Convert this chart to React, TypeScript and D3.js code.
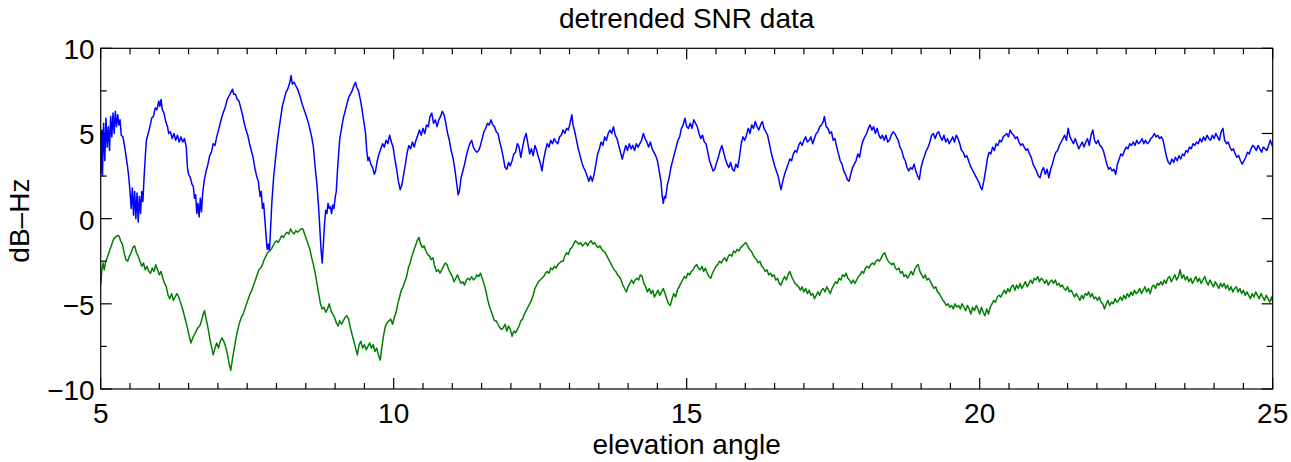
import React, { useEffect, useRef } from "react";
import * as d3 from "d3";

// ---- data (elevation angle [deg], detrended SNR [dB-Hz]) ----
const blue5to8: [number, number][] = [
  [5.00,2.6],[5.02,5.2],[5.03,2.5],[5.05,5.6],[5.07,3.4],[5.09,5.9],[5.11,4.2],[5.13,5.4],[5.15,4.0],[5.17,6.0],
  [5.19,4.8],[5.21,6.2],[5.23,5.0],[5.25,6.3],[5.27,5.4],[5.29,6.1],[5.31,5.5],[5.33,5.8],[5.35,4.9],[5.38,4.8],
  [5.41,4.2],[5.44,3.5],[5.46,3.0],[5.48,2.4],[5.50,1.6],[5.52,0.6],[5.54,1.8],[5.56,0.2],[5.58,1.6],[5.60,0.0],
  [5.62,1.5],[5.64,-0.2],[5.66,1.3],[5.68,0.3],[5.70,1.6],[5.72,1.0],[5.74,2.4],[5.76,3.6],[5.78,4.6],[5.81,5.0],
  [5.84,5.4],[5.87,5.9],[5.90,6.0],[5.93,6.5],[5.96,6.4],[5.99,6.9],[6.01,6.6],[6.03,7.0],[6.05,6.4],[6.08,6.2],
  [6.11,5.7],[6.14,5.4],[6.16,5.0],[6.19,5.1],[6.22,4.7],[6.25,5.0],[6.28,4.6],[6.31,4.9],[6.34,4.5],[6.37,4.8],
  [6.40,4.5],[6.43,4.7],[6.46,4.2],[6.48,3.0],[6.50,2.6],[6.53,2.4],[6.56,2.0],[6.58,1.9],[6.60,1.2],[6.62,1.4],
  [6.64,0.3],[6.66,0.9],[6.68,0.1],[6.70,1.2],[6.72,0.4],[6.74,1.5],[6.77,2.3],[6.80,2.8],[6.83,3.2],[6.86,3.7],
  [6.89,3.9],[6.92,4.4],[6.95,4.3],[6.98,4.8],[7.01,5.2],[7.04,5.6],[7.07,6.0],[7.10,6.3],[7.13,6.6],[7.16,7.0],
  [7.19,7.2],[7.22,7.4],[7.25,7.6],[7.27,7.3],[7.30,7.3],[7.33,7.0],[7.36,6.9],[7.39,6.5],[7.42,6.1],[7.45,5.6],
  [7.48,5.2],[7.51,4.9],[7.54,4.4],[7.57,4.0],[7.60,3.6],[7.63,3.0],[7.66,2.5],[7.69,2.2],[7.72,1.3],[7.74,1.6],
  [7.76,0.6],[7.78,0.9],[7.80,0.0],[7.82,-0.9],[7.84,-1.8],[7.86,-1.5],[7.88,-1.9],[7.90,-0.5],[7.92,0.9],[7.95,2.4],
  [7.98,3.4],
];
const blue8to11: [number, number][] = [
  [8.01,4.4],[8.04,5.2],[8.07,5.9],[8.10,6.6],[8.13,7.0],[8.16,7.4],[8.19,7.6],[8.22,7.9],[8.25,8.4],[8.27,7.9],
  [8.30,8.0],[8.33,7.8],[8.36,7.6],[8.40,7.2],[8.44,6.7],[8.48,6.3],[8.52,5.9],[8.56,5.4],[8.60,4.8],[8.63,4.2],
  [8.66,3.0],[8.69,2.0],[8.72,0.6],[8.74,-0.6],[8.76,-1.8],[8.78,-2.6],[8.80,-1.5],[8.82,-0.3],[8.84,0.5],[8.86,0.3],
  [8.88,0.9],[8.90,0.6],[8.92,0.7],[8.94,0.3],[8.96,0.8],[8.98,0.6],[9.00,1.2],[9.02,1.6],[9.04,2.8],[9.06,3.8],
  [9.08,4.7],[9.11,5.3],[9.14,5.9],[9.17,6.3],[9.20,6.7],[9.23,7.1],[9.26,7.3],[9.29,7.5],[9.32,7.8],[9.35,8.0],
  [9.37,7.7],[9.40,7.5],[9.43,7.0],[9.46,6.4],[9.49,5.7],[9.52,5.0],[9.54,4.0],[9.56,3.4],[9.58,3.6],[9.61,3.2],
  [9.64,3.0],[9.67,2.6],[9.69,2.8],[9.72,3.4],[9.75,3.8],[9.78,4.1],[9.81,4.4],[9.84,4.2],[9.87,4.6],[9.90,4.4],
  [9.93,4.9],[9.96,4.5],[9.99,4.2],[10.02,3.5],[10.05,2.9],[10.08,2.2],[10.11,1.7],[10.14,2.0],[10.17,2.6],[10.20,3.2],
  [10.23,3.9],[10.26,4.3],[10.29,4.1],[10.32,4.5],[10.35,4.2],[10.38,4.6],[10.41,4.9],[10.44,5.2],[10.47,4.9],[10.50,5.3],
  [10.53,5.0],[10.56,5.5],[10.59,5.4],[10.62,6.0],[10.65,6.2],[10.68,5.6],[10.71,5.8],[10.74,5.4],[10.77,5.8],[10.80,6.0],
  [10.83,6.3],[10.86,6.1],[10.89,5.6],[10.92,5.0],[10.95,4.6],[10.98,4.0],
];
const blue11to14: [number, number][] = [
  [11.01,3.6],[11.04,3.0],[11.07,2.2],[11.10,1.4],[11.12,1.6],[11.15,2.4],[11.18,2.8],[11.21,3.2],[11.24,3.7],[11.27,4.1],
  [11.30,4.4],[11.33,4.6],[11.36,4.2],[11.39,4.0],[11.42,3.9],[11.45,4.0],[11.48,4.3],[11.51,4.7],[11.54,5.1],[11.57,5.3],
  [11.60,5.6],[11.63,5.5],[11.66,5.8],[11.69,5.5],[11.72,5.4],[11.75,5.1],[11.78,5.0],[11.81,4.5],[11.84,4.1],[11.87,3.6],
  [11.90,3.0],[11.93,2.9],[11.96,3.3],[11.99,3.1],[12.02,3.4],[12.05,3.8],[12.08,3.9],[12.11,4.4],[12.14,4.2],[12.17,3.6],
  [12.20,4.2],[12.23,4.7],[12.26,5.0],[12.29,4.4],[12.32,3.8],[12.35,4.1],[12.38,3.7],[12.41,4.3],[12.44,4.0],[12.47,3.6],
  [12.50,3.3],[12.53,2.8],[12.56,3.5],[12.59,4.0],[12.62,4.4],[12.65,4.2],[12.68,4.6],[12.71,4.4],[12.74,4.7],[12.77,4.5],
  [12.80,4.4],[12.83,4.8],[12.86,4.9],[12.89,5.2],[12.92,5.0],[12.95,5.3],[12.98,5.2],[13.01,5.6],[13.04,6.1],[13.06,5.5],
  [13.09,5.1],[13.12,4.6],[13.15,4.1],[13.18,3.7],[13.21,3.3],[13.24,3.0],[13.27,2.8],[13.30,2.5],[13.33,2.2],[13.36,2.5],
  [13.39,2.2],[13.42,2.6],[13.45,3.2],[13.48,3.8],[13.51,4.1],[13.54,4.5],[13.57,4.3],[13.60,4.8],[13.63,4.6],[13.66,5.0],
  [13.69,5.2],[13.72,5.0],[13.75,5.4],[13.78,4.9],[13.81,4.7],[13.84,4.3],[13.87,3.9],[13.90,3.5],[13.93,3.9],[13.96,4.3],
  [13.99,4.0],
];
const blue14to17: [number, number][] = [
  [14.02,4.4],[14.05,4.1],[14.08,4.3],[14.11,4.0],[14.14,4.4],[14.17,4.2],[14.20,4.4],[14.23,4.6],[14.26,5.0],[14.29,4.7],
  [14.32,4.5],[14.35,4.2],[14.38,4.5],[14.41,4.1],[14.44,3.9],[14.47,3.7],[14.50,3.4],[14.53,2.8],[14.56,2.2],[14.58,1.4],
  [14.60,0.9],[14.62,1.3],[14.64,1.2],[14.67,2.0],[14.70,2.4],[14.73,3.0],[14.76,3.4],[14.79,3.8],[14.82,4.2],[14.85,4.6],
  [14.88,4.8],[14.91,5.3],[14.94,5.5],[14.97,5.9],[15.00,5.4],[15.03,5.3],[15.06,5.6],[15.09,5.3],[15.12,5.8],[15.15,5.6],
  [15.18,5.4],[15.21,5.0],[15.24,4.7],[15.27,4.9],[15.30,4.5],[15.33,4.4],[15.36,3.9],[15.39,3.4],[15.42,3.1],[15.45,2.8],
  [15.48,2.9],[15.51,3.3],[15.54,3.6],[15.57,4.0],[15.60,4.3],[15.63,3.9],[15.66,3.5],[15.69,3.2],[15.72,3.0],[15.75,3.3],
  [15.78,2.9],[15.81,2.8],[15.84,3.2],[15.87,3.0],[15.90,3.6],[15.93,4.4],[15.96,4.8],[15.99,4.6],[16.02,4.9],[16.05,5.3],
  [16.08,5.0],[16.11,5.5],[16.14,5.3],[16.17,5.7],[16.20,5.4],[16.23,5.2],[16.26,5.5],[16.29,5.7],[16.32,5.3],[16.35,5.1],
  [16.38,4.9],[16.41,4.4],[16.44,3.9],[16.47,3.5],[16.50,3.1],[16.53,2.8],[16.56,2.5],[16.59,2.0],[16.61,1.7],[16.64,2.2],
  [16.67,2.6],[16.70,2.9],[16.73,3.2],[16.76,3.5],[16.79,3.4],[16.82,3.8],[16.85,4.0],[16.88,3.9],[16.91,4.3],[16.94,4.5],
  [16.97,4.3],
];
const blue17to20: [number, number][] = [
  [17.00,4.6],[17.03,4.8],[17.06,4.5],[17.09,4.6],[17.12,4.8],[17.15,4.4],[17.18,4.7],[17.21,5.0],[17.24,5.1],[17.27,5.4],
  [17.30,5.5],[17.33,5.7],[17.35,6.0],[17.38,5.4],[17.41,5.3],[17.44,5.0],[17.47,5.1],[17.50,4.6],[17.53,4.7],[17.56,4.2],
  [17.59,3.8],[17.62,3.4],[17.65,3.2],[17.68,2.8],[17.71,2.6],[17.74,2.3],[17.77,2.2],[17.80,2.6],[17.83,3.0],[17.86,3.2],
  [17.89,3.4],[17.92,3.8],[17.95,3.6],[17.98,4.2],[18.01,4.6],[18.04,4.8],[18.07,5.0],[18.10,5.3],[18.13,5.5],[18.16,5.2],
  [18.19,5.4],[18.22,5.0],[18.25,5.3],[18.28,4.9],[18.31,4.7],[18.34,4.9],[18.37,4.6],[18.40,4.9],[18.43,4.5],[18.46,4.6],
  [18.49,4.9],[18.52,5.1],[18.55,5.0],[18.58,4.8],[18.61,4.6],[18.64,4.2],[18.67,4.0],[18.70,3.6],[18.73,3.4],[18.76,3.0],
  [18.79,2.8],[18.82,3.0],[18.85,2.9],[18.88,3.2],[18.91,2.8],[18.94,2.5],[18.97,2.3],[19.00,3.0],[19.03,3.4],[19.06,3.7],
  [19.09,4.0],[19.12,4.2],[19.15,4.5],[19.18,4.9],[19.21,5.0],[19.24,4.7],[19.27,5.0],[19.30,5.1],[19.33,4.8],[19.36,4.6],
  [19.39,4.9],[19.42,4.5],[19.45,4.7],[19.48,4.4],[19.51,4.6],[19.54,4.8],[19.57,4.5],[19.60,4.9],[19.63,4.7],[19.66,4.4],
  [19.69,4.0],[19.72,3.9],[19.75,3.6],[19.78,3.7],[19.81,3.4],[19.84,3.1],[19.87,2.9],[19.90,2.7],[19.93,2.5],[19.96,2.3],
  [19.99,2.1],
];
const blue20to25: [number, number][] = [
  [20.02,1.8],[20.04,1.7],[20.07,2.2],[20.10,2.8],[20.13,3.5],[20.16,3.9],[20.19,3.8],[20.22,4.2],[20.25,4.0],[20.28,4.4],
  [20.31,4.3],[20.34,4.6],[20.37,4.5],[20.40,4.8],[20.43,4.9],[20.46,5.0],[20.49,4.8],[20.52,5.2],[20.55,5.0],[20.58,4.9],
  [20.61,4.7],[20.64,4.8],[20.67,4.5],[20.70,4.3],[20.73,4.4],[20.76,4.2],[20.79,4.0],[20.82,4.1],[20.85,3.8],[20.88,3.6],
  [20.91,3.2],[20.94,3.0],[20.97,2.8],[21.00,2.5],[21.03,2.4],[21.06,2.8],[21.09,3.0],[21.12,2.6],[21.15,2.9],[21.18,2.4],
  [21.21,2.9],[21.24,3.2],[21.27,3.6],[21.30,3.9],[21.33,4.0],[21.36,4.3],[21.39,4.5],[21.42,4.7],[21.45,4.9],[21.48,4.6],
  [21.51,5.3],[21.54,4.8],[21.57,4.6],[21.60,4.4],[21.63,4.7],[21.66,4.4],[21.69,4.1],[21.72,4.3],[21.75,4.5],[21.78,4.2],
  [21.81,4.5],[21.84,4.7],[21.87,4.3],[21.90,4.9],[21.93,5.2],[21.96,4.6],[21.99,4.4],[22.02,4.6],[22.05,4.3],[22.08,4.2],
  [22.11,4.0],[22.14,3.6],[22.17,3.2],[22.20,2.9],[22.23,3.0],[22.26,2.8],[22.29,2.9],[22.32,2.6],[22.35,3.2],[22.38,3.5],
  [22.41,3.8],[22.44,3.7],[22.47,4.0],[22.50,4.2],[22.53,4.1],[22.56,4.4],[22.59,4.3],[22.62,4.5],[22.65,4.3],[22.68,4.6],
  [22.71,4.4],[22.74,4.5],[22.77,4.7],[22.80,4.4],[22.83,4.6],[22.86,4.4],[22.89,4.5],[22.92,4.7],[22.95,4.8],[22.98,5.0],
  [23.01,4.8],[23.04,4.9],[23.07,4.7],[23.10,4.8],[23.13,4.6],[23.16,4.1],[23.19,3.6],[23.22,3.3],[23.25,3.2],[23.28,3.5],
  [23.31,3.3],[23.34,3.6],[23.37,3.4],[23.40,3.7],[23.43,3.5],[23.46,3.8],[23.49,3.7],[23.52,4.0],[23.55,3.9],[23.58,4.2],
  [23.61,4.1],[23.64,4.4],[23.67,4.3],[23.70,4.5],[23.73,4.4],[23.76,4.7],[23.79,4.5],[23.82,4.8],[23.85,4.6],[23.88,4.9],
  [23.91,4.7],[23.94,4.6],[23.97,4.9],[24.00,4.7],[24.03,5.0],[24.06,4.8],[24.09,4.6],[24.12,5.1],[24.15,5.3],[24.18,4.6],
  [24.21,4.4],[24.24,4.5],[24.27,4.2],[24.30,4.0],[24.33,4.1],[24.36,3.8],[24.39,3.6],[24.42,3.7],[24.45,3.4],[24.48,3.2],
  [24.51,3.4],[24.54,3.6],[24.57,3.9],[24.60,3.8],[24.63,4.1],[24.66,4.3],[24.69,4.2],[24.72,4.0],[24.75,4.3],[24.78,4.1],
  [24.81,3.9],[24.84,4.2],[24.87,4.1],[24.90,4.0],[24.93,4.3],[24.96,4.6],[25.00,4.2],
];

const green5to8: [number, number][] = [
  [5.00,-3.9],[5.02,-3.0],[5.04,-2.6],[5.06,-3.0],[5.08,-2.6],[5.10,-2.4],[5.13,-2.1],[5.16,-1.8],[5.19,-1.5],[5.22,-1.2],
  [5.25,-1.1],[5.28,-1.0],[5.31,-1.0],[5.34,-1.3],[5.37,-1.5],[5.40,-2.0],[5.43,-2.4],[5.46,-2.5],[5.49,-2.2],[5.52,-2.0],
  [5.55,-1.7],[5.58,-1.6],[5.61,-2.0],[5.64,-2.2],[5.67,-2.5],[5.70,-2.8],[5.73,-2.6],[5.76,-3.0],[5.79,-2.8],[5.82,-3.1],
  [5.85,-3.2],[5.88,-2.9],[5.91,-3.1],[5.94,-2.7],[5.97,-3.0],[6.00,-3.3],[6.03,-3.1],[6.06,-3.5],[6.09,-3.8],[6.12,-4.0],
  [6.15,-4.5],[6.18,-4.7],[6.21,-4.4],[6.24,-4.8],[6.27,-4.6],[6.30,-4.4],[6.33,-4.6],[6.36,-4.9],[6.39,-5.2],[6.42,-5.6],
  [6.45,-6.0],[6.48,-6.4],[6.51,-6.9],[6.54,-7.3],[6.57,-7.0],[6.60,-6.8],[6.63,-6.6],[6.66,-6.4],[6.69,-6.3],[6.72,-6.0],
  [6.75,-5.6],[6.77,-5.4],[6.80,-5.9],[6.83,-6.4],[6.86,-7.0],[6.89,-7.5],[6.92,-8.0],[6.95,-7.6],[6.98,-7.3],[7.01,-7.6],
  [7.04,-7.2],[7.07,-7.0],[7.10,-7.2],[7.13,-7.5],[7.16,-7.9],[7.19,-8.5],[7.22,-8.9],[7.25,-8.2],[7.28,-7.6],[7.31,-7.0],
  [7.34,-6.5],[7.37,-6.1],[7.40,-5.8],[7.43,-5.6],[7.46,-5.3],[7.49,-5.0],[7.52,-4.7],[7.55,-4.4],[7.58,-4.2],[7.61,-3.9],
  [7.64,-3.6],[7.67,-3.3],[7.70,-3.0],[7.73,-2.9],[7.76,-2.7],[7.79,-2.4],[7.82,-2.2],[7.85,-2.0],[7.88,-1.9],[7.91,-1.8],
  [7.94,-1.6],[7.97,-1.4],
];
const green8to11: [number, number][] = [
  [8.00,-1.3],[8.03,-1.4],[8.06,-1.2],[8.09,-1.0],[8.12,-1.1],[8.15,-0.9],[8.18,-0.8],[8.21,-0.9],[8.24,-0.6],[8.27,-0.8],
  [8.30,-0.9],[8.33,-0.7],[8.36,-0.8],[8.39,-0.7],[8.42,-0.6],[8.45,-0.6],[8.48,-0.9],[8.51,-1.2],[8.54,-1.5],[8.57,-1.8],
  [8.60,-2.3],[8.63,-2.7],[8.66,-3.2],[8.69,-3.8],[8.72,-4.4],[8.75,-5.0],[8.78,-5.3],[8.81,-5.2],[8.84,-5.5],[8.87,-5.3],
  [8.90,-5.0],[8.93,-5.4],[8.96,-5.6],[8.99,-5.8],[9.02,-6.1],[9.05,-6.3],[9.08,-6.0],[9.11,-6.2],[9.14,-6.0],[9.17,-5.8],
  [9.20,-5.7],[9.23,-5.9],[9.26,-6.4],[9.29,-6.8],[9.32,-7.2],[9.35,-7.6],[9.38,-8.0],[9.41,-7.4],[9.44,-7.2],[9.47,-7.6],
  [9.50,-7.4],[9.53,-7.7],[9.56,-7.5],[9.59,-7.3],[9.62,-7.6],[9.65,-7.4],[9.68,-7.8],[9.71,-7.6],[9.74,-8.0],[9.77,-8.3],
  [9.80,-7.5],[9.83,-6.8],[9.86,-6.3],[9.89,-6.1],[9.92,-6.0],[9.95,-5.9],[9.98,-6.2],[10.01,-5.8],[10.04,-5.5],[10.07,-5.0],
  [10.10,-4.6],[10.13,-4.2],[10.16,-4.0],[10.19,-3.7],[10.22,-3.4],[10.25,-2.9],[10.28,-2.6],[10.31,-2.2],[10.34,-1.9],[10.37,-1.6],
  [10.40,-1.3],[10.43,-1.1],[10.46,-1.5],[10.49,-1.7],[10.52,-1.6],[10.55,-1.9],[10.58,-2.1],[10.61,-2.2],[10.64,-2.4],[10.67,-2.3],
  [10.70,-2.8],[10.73,-3.1],[10.76,-3.0],[10.79,-3.2],[10.82,-3.0],[10.85,-2.8],[10.88,-2.6],[10.91,-2.7],[10.94,-3.0],[10.97,-3.2],
];
const green11to14: [number, number][] = [
  [11.00,-3.4],[11.03,-3.7],[11.06,-3.5],[11.09,-3.3],[11.12,-3.6],[11.15,-3.8],[11.18,-3.7],[11.21,-3.9],[11.24,-3.6],[11.27,-3.5],
  [11.30,-3.6],[11.33,-3.4],[11.36,-3.6],[11.39,-3.5],[11.42,-3.3],[11.45,-3.4],[11.48,-3.2],[11.51,-3.5],[11.54,-3.8],[11.57,-4.2],
  [11.60,-4.7],[11.63,-5.1],[11.66,-5.4],[11.69,-5.7],[11.72,-6.0],[11.75,-6.0],[11.78,-6.2],[11.81,-6.4],[11.84,-6.5],[11.87,-6.4],
  [11.90,-6.2],[11.93,-6.6],[11.96,-6.3],[11.99,-6.5],[12.02,-6.9],[12.05,-6.6],[12.08,-6.7],[12.11,-6.5],[12.14,-6.3],[12.17,-6.0],
  [12.20,-5.9],[12.23,-5.6],[12.26,-5.4],[12.29,-5.2],[12.32,-5.0],[12.35,-4.8],[12.38,-4.5],[12.41,-4.1],[12.44,-3.9],[12.47,-3.7],
  [12.50,-3.6],[12.53,-3.5],[12.56,-3.4],[12.59,-3.2],[12.62,-3.1],[12.65,-3.2],[12.68,-2.9],[12.71,-3.0],[12.74,-2.8],[12.77,-2.9],
  [12.80,-2.7],[12.83,-2.6],[12.86,-2.5],[12.89,-2.5],[12.92,-2.2],[12.95,-2.0],[12.98,-2.1],[13.01,-1.8],[13.04,-1.7],[13.07,-1.5],
  [13.10,-1.3],[13.13,-1.4],[13.16,-1.5],[13.19,-1.4],[13.22,-1.6],[13.25,-1.5],[13.28,-1.4],[13.31,-1.6],[13.34,-1.4],[13.37,-1.3],
  [13.40,-1.5],[13.43,-1.4],[13.46,-1.6],[13.49,-1.7],[13.52,-1.6],[13.55,-1.8],[13.58,-1.9],[13.61,-2.0],[13.64,-2.2],[13.67,-2.4],
  [13.70,-2.6],[13.73,-2.8],[13.76,-3.0],[13.79,-3.1],[13.82,-3.3],[13.85,-3.4],[13.88,-3.6],[13.91,-3.9],[13.94,-4.1],[13.97,-4.3],
];
const green14to17: [number, number][] = [
  [14.00,-4.0],[14.03,-3.8],[14.06,-3.6],[14.09,-3.8],[14.12,-3.6],[14.15,-3.5],[14.18,-3.6],[14.21,-3.3],[14.24,-3.4],[14.27,-3.8],
  [14.30,-4.0],[14.33,-4.3],[14.36,-4.1],[14.39,-4.4],[14.42,-4.2],[14.45,-4.6],[14.48,-4.4],[14.51,-4.2],[14.54,-4.5],[14.57,-4.3],
  [14.60,-4.1],[14.63,-4.4],[14.66,-4.7],[14.69,-5.0],[14.72,-5.1],[14.75,-4.7],[14.78,-4.4],[14.81,-4.6],[14.84,-4.2],[14.87,-4.0],
  [14.90,-3.8],[14.93,-3.6],[14.96,-3.4],[14.99,-3.5],[15.02,-3.2],[15.05,-3.3],[15.08,-3.1],[15.11,-3.0],[15.14,-2.8],[15.17,-2.7],
  [15.20,-2.9],[15.23,-3.0],[15.26,-2.8],[15.29,-3.1],[15.32,-2.9],[15.35,-3.2],[15.38,-3.4],[15.41,-3.5],[15.44,-3.2],[15.47,-3.0],
  [15.50,-2.8],[15.53,-2.7],[15.56,-2.5],[15.59,-2.6],[15.62,-2.4],[15.65,-2.3],[15.68,-2.5],[15.71,-2.2],[15.74,-2.1],[15.77,-2.2],
  [15.80,-1.9],[15.83,-2.0],[15.86,-1.8],[15.89,-1.9],[15.92,-1.7],[15.95,-1.6],[15.98,-1.5],[16.01,-1.4],[16.04,-1.6],[16.07,-1.8],
  [16.10,-1.9],[16.13,-2.1],[16.16,-2.3],[16.19,-2.4],[16.22,-2.6],[16.25,-2.5],[16.28,-2.8],[16.31,-2.9],[16.34,-3.1],[16.37,-3.0],
  [16.40,-3.3],[16.43,-3.2],[16.46,-3.4],[16.49,-3.3],[16.52,-3.6],[16.55,-3.5],[16.58,-3.8],[16.61,-3.9],[16.64,-3.6],[16.67,-3.4],
  [16.70,-3.6],[16.73,-3.3],[16.76,-3.1],[16.79,-3.4],[16.82,-3.6],[16.85,-3.8],[16.88,-3.9],[16.91,-4.0],[16.94,-4.2],[16.97,-4.0],
];
const green17to21: [number, number][] = [
  [17.00,-4.3],[17.03,-4.1],[17.06,-4.4],[17.09,-4.2],[17.12,-4.5],[17.15,-4.4],[17.18,-4.7],[17.21,-4.5],[17.24,-4.3],[17.27,-4.5],
  [17.30,-4.2],[17.33,-4.1],[17.36,-4.3],[17.39,-4.0],[17.42,-4.2],[17.45,-4.4],[17.48,-4.1],[17.51,-3.9],[17.54,-3.7],[17.57,-3.8],
  [17.60,-3.5],[17.63,-3.6],[17.66,-3.3],[17.69,-3.4],[17.72,-3.2],[17.75,-3.5],[17.78,-3.6],[17.81,-3.8],[17.84,-3.6],[17.87,-3.8],
  [17.90,-3.6],[17.93,-3.4],[17.96,-3.3],[17.99,-3.1],[18.02,-3.2],[18.05,-2.9],[18.08,-2.8],[18.11,-2.9],[18.14,-2.7],[18.17,-2.6],
  [18.20,-2.7],[18.23,-2.5],[18.26,-2.4],[18.29,-2.5],[18.32,-2.3],[18.35,-2.1],[18.38,-2.0],[18.41,-2.3],[18.44,-2.5],[18.47,-2.6],
  [18.50,-2.7],[18.53,-2.6],[18.56,-2.9],[18.59,-3.0],[18.62,-2.9],[18.65,-3.2],[18.68,-3.1],[18.71,-3.4],[18.74,-3.3],[18.77,-3.5],
  [18.80,-3.3],[18.83,-3.1],[18.86,-3.3],[18.89,-3.0],[18.92,-2.8],[18.95,-2.7],[18.98,-3.1],[19.01,-3.3],[19.04,-3.5],[19.07,-3.3],
  [19.10,-3.6],[19.13,-3.5],[19.16,-3.7],[19.19,-3.9],[19.22,-4.1],[19.25,-4.0],[19.28,-4.3],[19.31,-4.4],[19.34,-4.6],[19.37,-4.8],
  [19.40,-4.9],[19.43,-5.1],[19.46,-5.0],[19.49,-5.2],[19.52,-5.1],[19.55,-5.3],[19.58,-5.0],[19.61,-5.2],[19.64,-5.1],[19.67,-5.3],
  [19.70,-5.0],[19.73,-5.2],[19.76,-5.4],[19.79,-5.1],[19.82,-5.3],[19.85,-5.6],[19.88,-5.2],[19.91,-5.4],[19.94,-5.1],[19.97,-5.3],
  [20.00,-5.6],[20.03,-5.2],[20.06,-5.5],[20.09,-5.7],[20.12,-5.3],[20.15,-5.6],[20.18,-5.2],[20.21,-5.0],[20.24,-4.8],[20.27,-4.9],
  [20.30,-4.6],[20.33,-4.5],[20.36,-4.6],[20.39,-4.4],[20.42,-4.2],[20.45,-4.4],[20.48,-4.1],[20.51,-4.3],[20.54,-4.0],[20.57,-3.9],
  [20.60,-4.2],[20.63,-3.9],[20.66,-4.1],[20.69,-3.8],[20.72,-4.1],[20.75,-3.9],[20.78,-3.7],[20.81,-4.0],[20.84,-3.8],[20.87,-3.6],
  [20.90,-3.8],[20.93,-3.5],[20.96,-3.6],[20.99,-3.4],
];
const green21to25: [number, number][] = [
  [21.02,-3.7],[21.05,-3.5],[21.08,-3.6],[21.11,-3.8],[21.14,-3.6],[21.17,-3.9],[21.20,-3.7],[21.23,-3.6],[21.26,-3.8],[21.29,-3.6],
  [21.32,-3.9],[21.35,-3.8],[21.38,-4.0],[21.41,-3.9],[21.44,-4.1],[21.47,-4.2],[21.50,-4.0],[21.53,-4.3],[21.56,-4.2],[21.59,-4.4],
  [21.62,-4.6],[21.65,-4.4],[21.68,-4.6],[21.71,-4.8],[21.74,-4.5],[21.77,-4.7],[21.80,-4.4],[21.83,-4.5],[21.86,-4.3],[21.89,-4.6],
  [21.92,-4.4],[21.95,-4.7],[21.98,-4.6],[22.01,-4.8],[22.04,-4.6],[22.07,-4.9],[22.10,-5.0],[22.13,-5.3],[22.16,-5.0],[22.19,-4.8],
  [22.22,-5.1],[22.25,-4.9],[22.28,-5.0],[22.31,-4.7],[22.34,-4.9],[22.37,-4.8],[22.40,-4.6],[22.43,-4.8],[22.46,-4.5],[22.49,-4.7],
  [22.52,-4.4],[22.55,-4.6],[22.58,-4.3],[22.61,-4.5],[22.64,-4.2],[22.67,-4.4],[22.70,-4.3],[22.73,-4.1],[22.76,-4.4],[22.79,-4.2],
  [22.82,-4.0],[22.85,-4.3],[22.88,-4.1],[22.91,-4.4],[22.94,-4.0],[22.97,-3.9],[23.00,-4.1],[23.03,-3.8],[23.06,-3.9],[23.09,-3.7],
  [23.12,-3.9],[23.15,-3.6],[23.18,-3.8],[23.21,-3.5],[23.24,-3.4],[23.27,-3.7],[23.30,-3.5],[23.33,-3.3],[23.36,-3.6],[23.39,-3.4],
  [23.42,-3.0],[23.45,-3.5],[23.48,-3.3],[23.51,-3.6],[23.54,-3.4],[23.57,-3.7],[23.60,-3.5],[23.63,-3.8],[23.66,-3.6],[23.69,-3.4],
  [23.72,-3.7],[23.75,-3.5],[23.78,-3.8],[23.81,-3.6],[23.84,-3.4],[23.87,-3.7],[23.90,-3.9],[23.93,-3.6],[23.96,-3.8],[23.99,-4.0],
  [24.02,-3.7],[24.05,-3.9],[24.08,-4.1],[24.11,-3.8],[24.14,-4.0],[24.17,-3.8],[24.20,-4.1],[24.23,-3.9],[24.26,-4.2],[24.29,-4.0],
  [24.32,-4.3],[24.35,-4.1],[24.38,-4.0],[24.41,-4.3],[24.44,-4.1],[24.47,-4.4],[24.50,-4.2],[24.53,-4.5],[24.56,-4.3],[24.59,-4.5],
  [24.62,-4.7],[24.65,-4.4],[24.68,-4.6],[24.71,-4.3],[24.74,-4.5],[24.77,-4.7],[24.80,-4.4],[24.83,-4.6],[24.86,-4.8],[24.89,-4.5],
  [24.92,-4.7],[24.95,-4.9],[24.98,-4.6],[25.00,-4.9],
];

const xMajorTicks = [5, 10, 15, 20, 25];
const yMajorTicks = [-10, -5, 0, 5, 10];
const yTickLabels = ["\u221210", "\u22125", "0", "5", "10"];
const titleText = "detrended SNR data";
const xLabelText = "elevation angle";
const yLabelText = "dB\u2013Hz";

const series = [
  { name: "blue", color: "#0000ff", points: [...blue5to8, ...blue8to11, ...blue11to14, ...blue14to17, ...blue17to20, ...blue20to25] },
  { name: "green", color: "#007f00", points: [...green5to8, ...green8to11, ...green11to14, ...green14to17, ...green17to21, ...green21to25] },
];

const W = 1291, H = 462;
const M = { left: 100.7, right: 1272.7, top: 48.3, bottom: 389 };
const FONT = "'Liberation Sans', Arial, Helvetica, sans-serif";

export default function App() {
  const ref = useRef<SVGSVGElement>(null);
  useEffect(() => {
    const svg = d3.select(ref.current);
    svg.selectAll("*").remove();
    const x = d3.scaleLinear().domain([5, 25]).range([M.left, M.right]);
    const y = d3.scaleLinear().domain([-10, 10]).range([M.bottom, M.top]);

    svg.append("rect").attr("width", W).attr("height", H).attr("fill", "#fff");

    svg.append("clipPath").attr("id", "plotclip").append("rect")
      .attr("x", M.left).attr("y", M.top).attr("width", M.right - M.left).attr("height", M.bottom - M.top);

    const line = d3.line<[number, number]>().x(d => x(d[0])).y(d => y(d[1]));
    const g = svg.append("g").attr("clip-path", "url(#plotclip)");
    series.forEach(s => {
      g.append("path").attr("d", line(s.points) as string).attr("fill", "none")
        .attr("stroke", s.color).attr("stroke-width", 1.5).attr("stroke-linejoin", "round");
    });

    const ax = svg.append("g").attr("stroke", "#000").attr("stroke-width", 1.2);
    const xMinor = d3.range(5, 25.0001, 0.5);
    xMinor.forEach(v => {
      const major = xMajorTicks.includes(v);
      const len = major ? 11 : 6;
      ax.append("line").attr("x1", x(v)).attr("x2", x(v)).attr("y1", M.bottom).attr("y2", M.bottom - len);
      ax.append("line").attr("x1", x(v)).attr("x2", x(v)).attr("y1", M.top).attr("y2", M.top + len);
    });
    const yMinor = d3.range(-10, 10.0001, 2.5);
    yMinor.forEach(v => {
      const major = yMajorTicks.includes(v);
      const len = major ? 11 : 6;
      ax.append("line").attr("x1", M.left).attr("x2", M.left + len).attr("y1", y(v)).attr("y2", y(v));
      ax.append("line").attr("x1", M.right).attr("x2", M.right - len).attr("y1", y(v)).attr("y2", y(v));
    });
    ax.append("rect").attr("x", M.left).attr("y", M.top).attr("width", M.right - M.left)
      .attr("height", M.bottom - M.top).attr("fill", "none");

    const txt = svg.append("g").attr("font-family", FONT).attr("fill", "#000");
    xMajorTicks.forEach(v => {
      txt.append("text").attr("x", x(v)).attr("y", 423).attr("text-anchor", "middle")
        .attr("font-size", 28).text(String(v));
    });
    yMajorTicks.forEach((v, i) => {
      txt.append("text").attr("x", M.left - 6).attr("y", y(v) + 11).attr("text-anchor", "end")
        .attr("font-size", 28).text(yTickLabels[i]);
    });
    txt.append("text").attr("x", (M.left + M.right) / 2).attr("y", 28).attr("text-anchor", "middle")
      .attr("font-size", 28).text(titleText);
    txt.append("text").attr("x", (M.left + M.right) / 2).attr("y", 454).attr("text-anchor", "middle")
      .attr("font-size", 28).text(xLabelText);
    txt.append("text").attr("transform", `translate(29,${(M.top + M.bottom) / 2 + 2}) rotate(-90)`)
      .attr("text-anchor", "middle").attr("font-size", 28).text(yLabelText);
  }, []);
  return (
    <svg ref={ref} width={W} height={H} style={{ position: "absolute", left: 0, top: 0, display: "block" }} />
  );
}
